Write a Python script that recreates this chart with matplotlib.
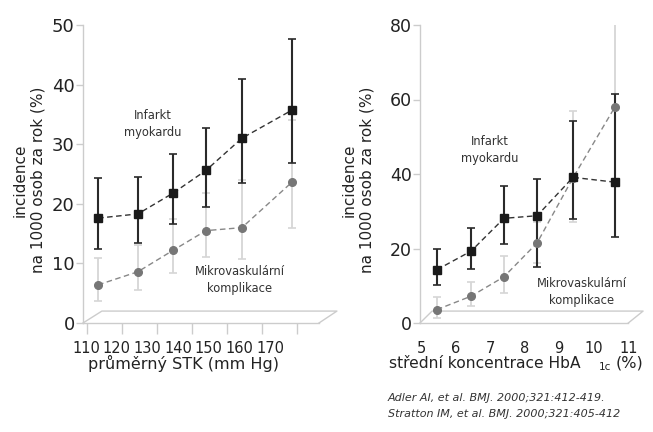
import matplotlib
matplotlib.use("Agg")
import matplotlib.pyplot as plt
import numpy as np

W, H = 653, 432

# levy graf - prumerny STK
stk = [113.1, 124.5, 134.6, 144.0, 154.3, 168.6]
stk_ticks = [110, 120, 130, 140, 150, 160, 170]
mi_stk = [17.6, 18.3, 21.8, 25.6, 31.0, 35.7]
mi_stk_lo = [12.4, 13.5, 16.6, 19.4, 23.5, 26.8]
mi_stk_hi = [24.4, 24.5, 28.3, 32.8, 41.0, 47.6]
mk_stk = [6.4, 8.6, 12.2, 15.5, 16.0, 23.6]
mk_stk_lo = [3.7, 5.6, 8.4, 11.0, 10.7, 16.0]
mk_stk_hi = [10.9, 13.1, 17.4, 21.8, 24.0, 34.0]

# pravy graf - HbA1c
hba = [5.46, 6.45, 7.40, 8.36, 9.40, 10.62]
hba_ticks = [5, 6, 7, 8, 9, 10, 11]
mi_hba = [14.3, 19.3, 28.1, 28.8, 39.1, 37.8]
mi_hba_lo = [10.3, 14.5, 21.3, 15.0, 28.0, 23.1]
mi_hba_hi = [19.8, 25.6, 36.9, 38.7, 54.3, 61.4]
mk_hba = [3.6, 7.2, 12.4, 21.5, 39.0, 58.1]
mk_hba_lo = [1.3, 4.6, 8.0, 16.0, 27.0, 38.0]
mk_hba_hi = [6.9, 10.9, 17.9, 27.0, 57.0, 81.8]

GRID = "#cccccc"
DARK = "#222222"


def fx(px):
    return px / W


def fy(py):
    return 1 - py / H


def panel(ax, x, mi, mi_lo, mi_hi, mk, mk_lo, mk_hi, floor):
    mk_err = [np.subtract(mk, mk_lo), np.subtract(mk_hi, mk)]
    mi_err = [np.subtract(mi, mi_lo), np.subtract(mi_hi, mi)]
    ax.errorbar(x, mk, yerr=mk_err, fmt="none", ecolor="#d6d6d6",
                elinewidth=1.3, capsize=3, capthick=1.2, zorder=1)
    ax.errorbar(x, mi, yerr=mi_err, fmt="none", ecolor="#2a2a2a",
                elinewidth=1.5, capsize=3, capthick=1.2, zorder=2)
    ax.plot(x, mk, ls=(0, (4, 2.5)), lw=1, color="#888888", marker="o",
            ms=5.5, mfc="#767676", mec="#767676", zorder=3)
    ax.plot(x, mi, ls=(0, (4, 2.5)), lw=1, color="#333333", marker="s",
            ms=5.5, mfc="#1a1a1a", mec="#1a1a1a", zorder=4)

    for s in ["top", "right"]:
        ax.spines[s].set_visible(False)
    for s in ["left", "bottom"]:
        ax.spines[s].set_color(GRID)
        ax.spines[s].set_linewidth(1)

    # "3D" podlaha
    x0, x1, dy = floor
    ax.plot([0, x0, x1, 1], [0, dy, dy, 0], color=GRID, lw=1,
            transform=ax.transAxes, clip_on=False, zorder=0)

    ax.tick_params(axis="y", direction="out", length=5, width=1,
                   color=GRID, labelcolor=DARK, pad=1)
    ax.tick_params(axis="x", which="minor", direction="out", length=8,
                   width=1, color=GRID)
    ax.tick_params(axis="x", which="major", length=0, labelcolor=DARK,
                   labelsize=10.5, pad=13)
    ax.set_facecolor("none")


fig = plt.figure(figsize=(W / 100, H / 100), dpi=100)

# levy panel
ax1 = fig.add_axes([fx(83), fy(323), fx(319) - fx(83), fy(25) - fy(323)])
panel(ax1, stk, mi_stk, mi_stk_lo, mi_stk_hi, mk_stk, mk_stk_lo, mk_stk_hi,
      (0.080, 1.076, 0.040))
ax1.set_xlim(108.77, 176.4)
ax1.set_ylim(0, 50)
ax1.set_yticks([0, 10, 20, 30, 40, 50])
ax1.tick_params(axis="y", labelsize=13)
ax1.set_xticks(stk_ticks, minor=True)
# popisky jsou v originale stlacene k sobe
ax1.set_xticks(stk_ticks[0] - 0.4 + np.arange(len(stk_ticks)) * 8.8)
ax1.set_xticklabels([str(t) for t in stk_ticks])
ax1.text(128.8, 33.4, "Infarkt\nmyokardu", ha="center", va="center",
         fontsize=8.3, color="#333333", linespacing=1.35)
ax1.text(153.7, 7.2, "Mikrovaskulární\nkomplikace", ha="center", va="center",
         fontsize=8.3, color="#333333", linespacing=1.35)

# pravy panel
ax2 = fig.add_axes([fx(420), fy(323), fx(628.3) - fx(420), fy(25) - fy(323)])
panel(ax2, hba, mi_hba, mi_hba_lo, mi_hba_hi, mk_hba, mk_hba_lo, mk_hba_hi,
      (0.058, 1.071, 0.040))
ax2.set_xlim(4.97, 11.0)
ax2.set_ylim(0, 80)
ax2.set_yticks([0, 20, 40, 60, 80])
ax2.tick_params(axis="y", labelsize=12.5)
ax2.set_xticks(hba_ticks, minor=True)
ax2.set_xticks(hba_ticks)
ax2.set_xticklabels([str(t) for t in hba_ticks])
ax2.text(7.0, 46.4, "Infarkt\nmyokardu", ha="center", va="center",
         fontsize=8.3, color="#333333", linespacing=1.35)
ax2.text(9.66, 8.3, "Mikrovaskulární\nkomplikace", ha="center", va="center",
         fontsize=8.3, color="#333333", linespacing=1.35)

# popisky os
ylab = "incidence\nna 1000 osob za rok (%)"
fig.text(fx(29), fy(180), ylab, rotation=90, ha="center", va="center",
         fontsize=11, color=DARK, linespacing=1.25, multialignment="center")
fig.text(fx(358.5), fy(180), ylab, rotation=90, ha="center", va="center",
         fontsize=11, color=DARK, linespacing=1.25, multialignment="center")

fig.text(fx(183), fy(363), "průměrný STK (mm Hg)", ha="center", va="center",
         fontsize=11.5, color=DARK)
fig.text(fx(581), fy(363), "střední koncentrace HbA", ha="right",
         va="center", fontsize=11.2, color=DARK)
fig.text(fx(599), fy(367), "1c", ha="left", va="center", fontsize=7.5,
         color=DARK)
fig.text(fx(616), fy(363), "(%)", ha="left", va="center", fontsize=11.5,
         color=DARK)

# zdroje
fig.text(fx(388), fy(398), "Adler AI, et al. BMJ. 2000;321:412-419.",
         ha="left", va="center", fontsize=8, style="italic", color="#333333")
fig.text(fx(388), fy(414), "Stratton IM, et al. BMJ. 2000;321:405-412",
         ha="left", va="center", fontsize=8, style="italic", color="#333333")

fig.savefig("out.png", dpi=100)
